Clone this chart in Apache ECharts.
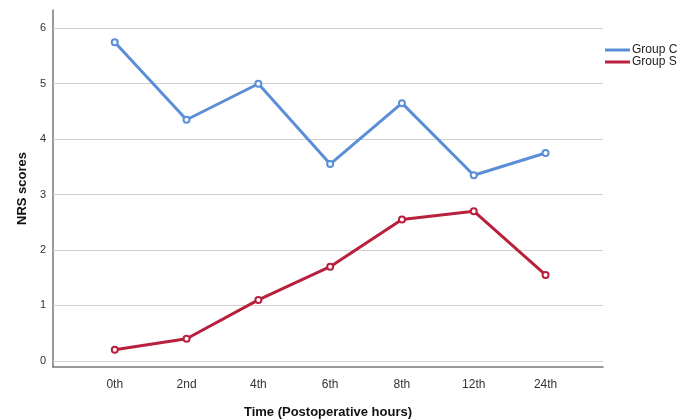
<!DOCTYPE html>
<html><head><meta charset="utf-8">
<script src="https://cdn.jsdelivr.net/npm/echarts@6/dist/echarts.min.js"></script>
<style>html,body{margin:0;padding:0;background:#fff}#c{width:693px;height:420px}</style>
</head><body><div id="c"></div>
<script>
var categories = ['0th','2nd','4th','6th','8th','12th','24th'];
var groupC = [5.75, 4.35, 5.0, 3.55, 4.65, 3.35, 3.75];
var groupS = [0.2, 0.4, 1.1, 1.7, 2.55, 2.7, 1.55];
var yTicks = [0,1,2,3,4,5,6];

function pairs(arr){ return arr.map(function(v,i){ return [i,v]; }); }
var chart = echarts.init(document.getElementById('c'));
var font = 'Liberation Sans, Arial, sans-serif';
chart.setOption({
  animation:false,
  textStyle:{fontFamily:font},
  grid:{left:53,right:90,top:10,bottom:53,containLabel:false,outerBoundsMode:'none'},
  legend:{orient:'vertical',left:600,top:39,itemWidth:25,itemHeight:3,itemGap:0,icon:'rect',
    textStyle:{fontSize:12,lineHeight:11,color:'#222',fontFamily:font,padding:[0,0,0,-3]},
    data:['Group C','Group S']},
  xAxis:{type:'value',min:-0.86,max:6.8,
    name:'Time (Postoperative hours)',nameLocation:'middle',nameGap:39,
    nameTextStyle:{fontSize:13,fontWeight:'bold',color:'#111',fontFamily:font},
    axisLine:{onZero:false,lineStyle:{color:'#777',width:1.5}},
    axisTick:{show:false},splitLine:{show:false},
    axisLabel:{customValues:[0,1,2,3,4,5,6],formatter:function(v){return categories[Math.round(v)];},
      color:'#333',fontSize:12,margin:12}},
  yAxis:{type:'value',min:-0.11,max:6.33,
    name:'NRS scores',nameLocation:'middle',nameGap:22,
    nameTextStyle:{fontSize:13,fontWeight:'bold',color:'#111',fontFamily:font},
    axisLine:{show:true,onZero:false,lineStyle:{color:'#777',width:1.5}},
    axisTick:{show:false},
    axisLabel:{customValues:yTicks,color:'#333',fontSize:11,margin:7},
    splitLine:{show:false}},
  series:[
    {name:'Group C',type:'line',data:pairs(groupC),symbol:'emptyCircle',symbolSize:6,z:3,
      lineStyle:{width:3,color:'#5a8fd8'},itemStyle:{color:'#5a8fd8',borderWidth:1},color:'#5a8fd8',
      markLine:{silent:true,symbol:'none',label:{show:false},z:1,
        lineStyle:{color:'#cfcfcf',width:1,type:'solid'},
        data:yTicks.map(function(t){return {yAxis:t};})}},
    {name:'Group S',type:'line',data:pairs(groupS),symbol:'emptyCircle',symbolSize:6,z:3,
      lineStyle:{width:3,color:'#b8203e'},itemStyle:{color:'#b8203e',borderWidth:1},color:'#b8203e'}
  ]
});
</script></body></html>
